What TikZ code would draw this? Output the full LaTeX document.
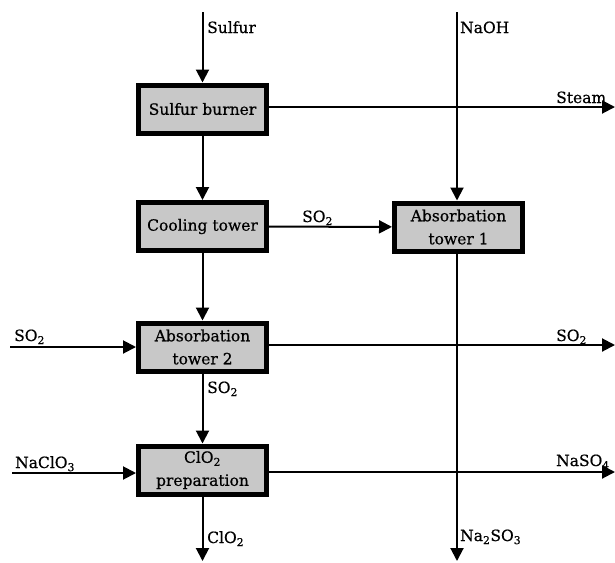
\documentclass[tikz,border=0pt]{standalone}
\usepackage{fontspec}
\setmainfont{DejaVu Serif}[FakeBold=0.6]
\usetikzlibrary{arrows.meta}
\definecolor{boxgray}{RGB}{200,200,200}
\tikzset{
  unitbox/.style={draw=black, line width=5pt, fill=boxgray, minimum width=128pt,
    minimum height=48pt, inner sep=0pt, align=center,
    font=\fontsize{15.5}{23}\selectfont},
  flow/.style={line width=2pt, -{Triangle[length=13pt,width=13pt]}},
  lbl/.style={anchor=base west, inner sep=0pt, font=\fontsize{15.5}{18}\selectfont},
}
\begin{document}
\begin{tikzpicture}[x=1pt,y=-1pt]
\useasboundingbox (0,0) rectangle (615,562);

% process units
\node[unitbox] (burner) at (202.5,109) {Sulfur burner};
\node[unitbox] (cool)   at (202.5,226.5) {Cooling tower};
\node[unitbox] (abs1)   at (458.5,227) {Absorbation\\tower 1};
\node[unitbox] (abs2)   at (202.5,347) {Absorbation\\tower 2};
\node[unitbox] (prep)   at (202.5,470) {ClO\textsubscript{2}\\preparation};

% free ends of the streams
\coordinate (sulfurIn) at (202.5,12);
\coordinate (naohIn)   at (457,12);
\coordinate (steamOut) at (615,107);
\coordinate (so2In)    at (10,347);
\coordinate (so2Out)   at (615,345);
\coordinate (chlIn)    at (12,473);
\coordinate (nasoOut)  at (615,472);
\coordinate (clo2Out)  at (202.5,561);
\coordinate (sulfOut)  at (457,561);

% streams
\draw[flow] (sulfurIn) -- (burner);
\draw[flow] (burner) -- (cool);
\draw[flow] (burner.east |- steamOut) -- (steamOut);
\draw[flow] (cool) -- (abs1);
\draw[flow] (cool) -- (abs2);
\draw[flow] (naohIn) -- (naohIn |- abs1.north);
\draw[flow] (naohIn |- abs1.south) -- (sulfOut);
\draw[flow] (so2In) -- (so2In -| abs2.west);
\draw[flow] (abs2.east |- so2Out) -- (so2Out);
\draw[flow] (abs2) -- (prep);
\draw[flow] (chlIn) -- (chlIn -| prep.west);
\draw[flow] (prep.east |- nasoOut) -- (nasoOut);
\draw[flow] (prep) -- (clo2Out);

% stream labels
\node[lbl] (tSulfur) at (207,33) {Sulfur};
\node[lbl] (tNaOH)   at (460,33) {NaOH};
\node[lbl] (tSteam)  at (556,103) {Steam};
\node[lbl] (tSO2a)   at (302,222) {SO\textsubscript{2}};
\node[lbl] (tSO2b)   at (14,341) {SO\textsubscript{2}};
\node[lbl] (tSO2c)   at (556,341) {SO\textsubscript{2}};
\node[lbl] (tSO2d)   at (207,393) {SO\textsubscript{2}};
\node[lbl] (tNaClO)  at (15,468) {NaClO\textsubscript{3}};
\node[lbl] (tNaSO)   at (556,466) {NaSO\textsubscript{4}};
\node[lbl] (tClO)    at (207,543) {ClO\textsubscript{2}};
\node[lbl] (tNaS)    at (460,541) {Na\textsubscript{2}SO\textsubscript{3}};
\end{tikzpicture}
\end{document}
